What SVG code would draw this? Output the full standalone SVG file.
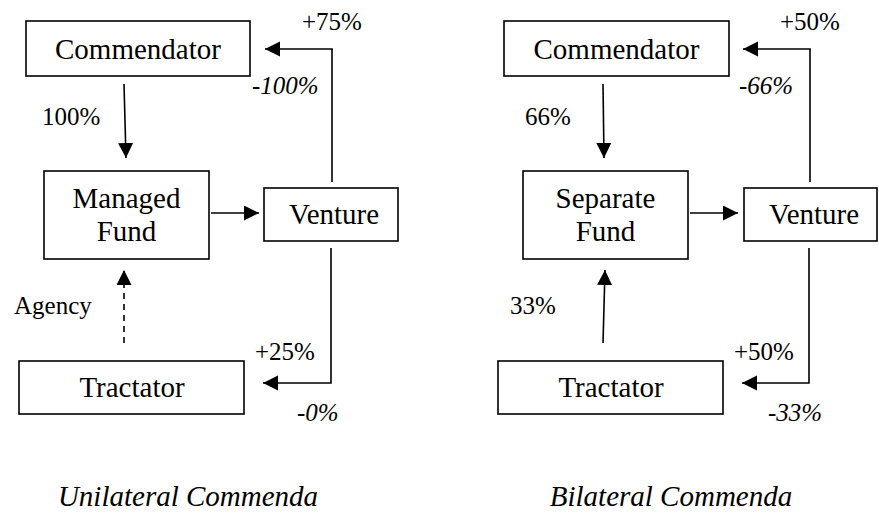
<svg xmlns="http://www.w3.org/2000/svg" width="879" height="514" viewBox="0 0 879 514">
<defs>
<marker id="ah" markerUnits="userSpaceOnUse" markerWidth="16" markerHeight="16" refX="15" refY="7.5" orient="auto">
<path d="M0,0 L15,7.5 L0,15 z" fill="#000"/>
</marker>
</defs>
<rect width="879" height="514" fill="#fff"/>

<g id="connectors" fill="none" stroke="#000" stroke-width="1.6">
<path marker-end="url(#ah)" d="M332,50 V49 H265"/>
<path d="M332,49 V182"/>
<path marker-end="url(#ah)" d="M124,84 L126,158"/>
<path marker-end="url(#ah)" d="M211,213 H259"/>
<path marker-end="url(#ah)" d="M331,248 V383 H263"/>
<path marker-end="url(#ah)" stroke-dasharray="6,5" d="M124,343 V270"/>
<path marker-end="url(#ah)" d="M810,50 V49 H743"/>
<path d="M810,49 V182"/>
<path marker-end="url(#ah)" d="M603,84 L604,158"/>
<path marker-end="url(#ah)" d="M690,213 H738"/>
<path marker-end="url(#ah)" d="M809,248 V383 H742"/>
<path marker-end="url(#ah)" d="M603,343 L605,270"/>
</g>

<g id="nodes" fill="#fff" stroke="#000" stroke-width="1.6">
<rect id="left-commendator" x="26" y="21" width="224" height="55"/>
<rect id="left-fund" x="44" y="171" width="165" height="88"/>
<rect id="left-venture" x="264" y="188" width="134" height="53"/>
<rect id="left-tractator" x="19" y="361" width="225" height="53"/>
<rect id="right-commendator" x="504" y="21" width="225" height="55"/>
<rect id="right-fund" x="523" y="171" width="165" height="88"/>
<rect id="right-venture" x="744" y="188" width="133" height="53"/>
<rect id="right-tractator" x="498" y="361" width="225" height="53"/>
</g>

<g id="node-texts" fill="#000" font-size="29px" text-anchor="middle">
<text font-family="'Liberation Serif', serif" x="138" y="59">Commendator</text>
<text font-family="'Liberation Serif', serif" x="126.5" y="208">Managed</text>
<text font-family="'Liberation Serif', serif" x="126.5" y="241">Fund</text>
<text font-family="'Liberation Serif', serif" x="334" y="224">Venture</text>
<text font-family="'Liberation Serif', serif" x="132" y="397">Tractator</text>
<text font-family="'Liberation Serif', serif" x="616.5" y="59">Commendator</text>
<text font-family="'Liberation Serif', serif" x="605.5" y="208">Separate</text>
<text font-family="'Liberation Serif', serif" x="605.5" y="241">Fund</text>
<text font-family="'Liberation Serif', serif" x="814" y="224">Venture</text>
<text font-family="'Liberation Serif', serif" x="611" y="397">Tractator</text>
</g>

<g id="labels" fill="#000" font-size="25px">
<text font-family="'Liberation Serif', serif" x="302" y="30">+75%</text>
<text font-family="'Liberation Serif', serif" font-style="italic" x="252" y="94">-100%</text>
<text font-family="'Liberation Serif', serif" x="42" y="125">100%</text>
<text font-family="'Liberation Serif', serif" x="14" y="314">Agency</text>
<text font-family="'Liberation Serif', serif" x="255" y="360">+25%</text>
<text font-family="'Liberation Serif', serif" font-style="italic" x="297" y="421">-0%</text>
<text font-family="'Liberation Serif', serif" x="780" y="30">+50%</text>
<text font-family="'Liberation Serif', serif" font-style="italic" x="739" y="94">-66%</text>
<text font-family="'Liberation Serif', serif" x="525" y="125">66%</text>
<text font-family="'Liberation Serif', serif" x="510" y="314">33%</text>
<text font-family="'Liberation Serif', serif" x="734" y="360">+50%</text>
<text font-family="'Liberation Serif', serif" font-style="italic" x="768" y="421">-33%</text>
<text font-family="'Liberation Serif', serif" font-style="italic" font-size="29px" text-anchor="middle" x="188" y="506">Unilateral Commenda</text>
<text font-family="'Liberation Serif', serif" font-style="italic" font-size="29px" text-anchor="middle" x="671" y="506">Bilateral Commenda</text>
</g>
</svg>
